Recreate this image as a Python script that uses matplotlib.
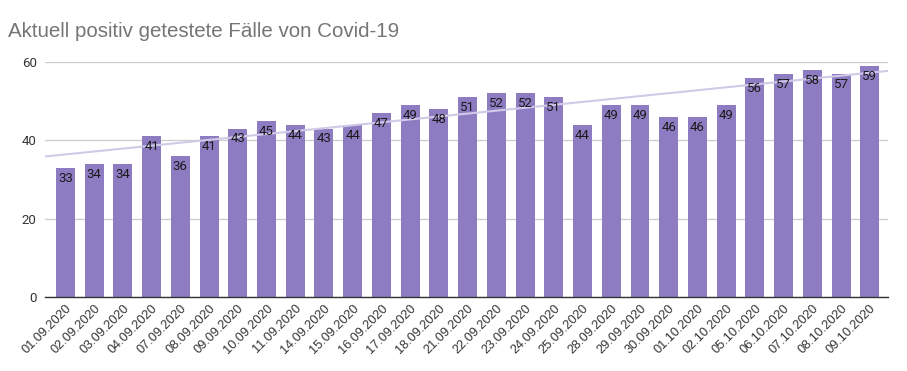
import numpy as np
import matplotlib
matplotlib.use('Agg')
from matplotlib import pyplot as plt

dates = ['01.09.2020', '02.09.2020', '03.09.2020', '04.09.2020', '07.09.2020',
         '08.09.2020', '09.09.2020', '10.09.2020', '11.09.2020', '14.09.2020',
         '15.09.2020', '16.09.2020', '17.09.2020', '18.09.2020', '21.09.2020',
         '22.09.2020', '23.09.2020', '24.09.2020', '25.09.2020', '28.09.2020',
         '29.09.2020', '30.09.2020', '01.10.2020', '02.10.2020', '05.10.2020',
         '06.10.2020', '07.10.2020', '08.10.2020', '09.10.2020']
cases = [33, 34, 34, 41, 36, 41, 43, 45, 44, 43, 44, 47, 49, 48, 51,
         52, 52, 51, 44, 49, 49, 46, 46, 49, 56, 57, 58, 57, 59]
yticks = [0, 20, 40, 60]

plt.rcParams['font.family'] = ['Roboto', 'DejaVu Sans']

fig = plt.figure(figsize=(9.07, 3.71), dpi=100)
ax = fig.add_axes([0.0496, 0.1995, 0.9294, 0.6334])

x = np.arange(len(cases))
bars = ax.bar(x, cases, width=0.66, color='#8e7cc3', zorder=2)
for xi, v in zip(x, cases):
    ax.text(xi, v - 1.0, str(v), ha='center', va='top', fontsize=9.5,
            color='#1a1a1a', zorder=4)

# linear trendline
xlim = (-0.71, 28.63)
k, d = np.polyfit(x, cases, 1)
tx = np.array(xlim)
ax.plot(tx, k * tx + d, color='#d0cae9', lw=1.5, zorder=3)

ax.set_xlim(*xlim)
ax.set_ylim(0, 60)
ax.set_yticks(yticks)
ax.set_xticks(x)
ax.set_xticklabels(dates, rotation=45, ha='right', rotation_mode='anchor',
                   fontsize=9.2, color='#333333', family=['Liberation Sans', 'DejaVu Sans'])
ax.tick_params(axis='y', labelsize=9.5, labelcolor='#333333', length=0, pad=6)
ax.tick_params(axis='x', length=0, pad=4)
ax.grid(axis='y', color='#cccccc', lw=0.9, zorder=0)
for s in ['top', 'right', 'left']:
    ax.spines[s].set_visible(False)
ax.spines['bottom'].set_color('#333333')
ax.spines['bottom'].set_linewidth(1.0)
ax.spines['bottom'].set_zorder(5)

fig.text(0.009, 0.915, 'Aktuell positiv getestete Fälle von Covid-19', fontsize=14.8,
         color='#757575', ha='left', va='center', family=['Liberation Sans', 'DejaVu Sans'])

fig.savefig('out.png', dpi=100)
